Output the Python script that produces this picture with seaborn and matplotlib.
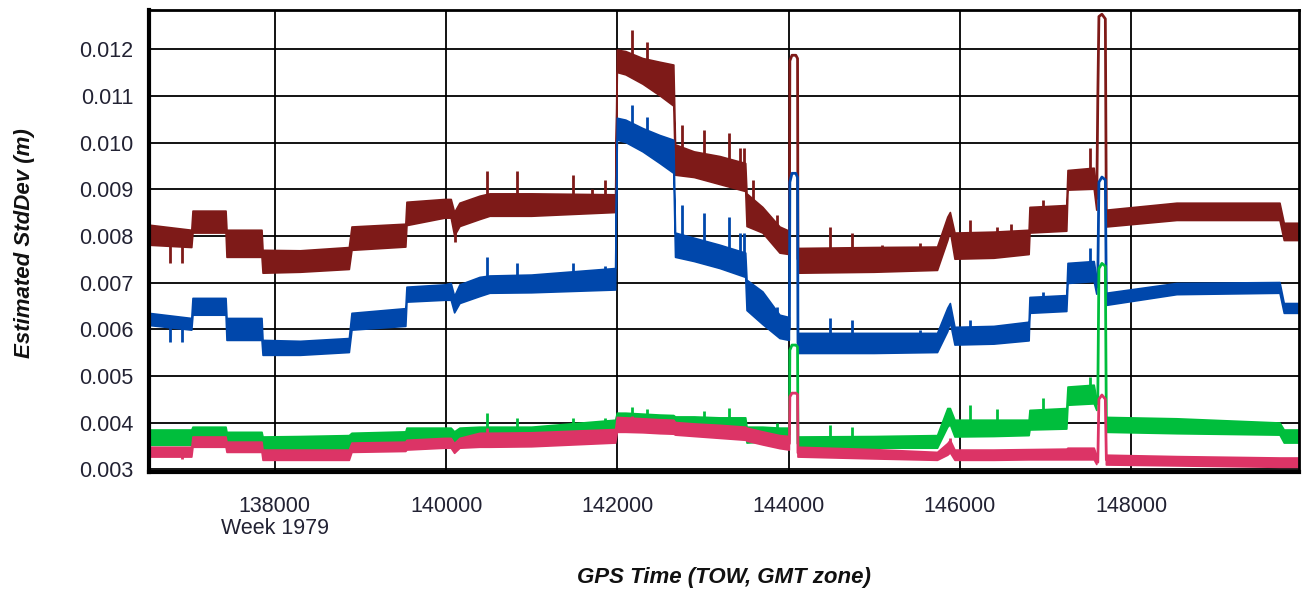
import numpy as np
import matplotlib
matplotlib.use("Agg")
import matplotlib.pyplot as plt
import matplotlib.transforms as mtransforms
import seaborn as sns

nan = np.nan
# ---------------- data (StdDev values in mm) ----------------
tow = [136530, 137030, 137044, 137430, 137441, 137850, 137862, 138300, 138870, 138901,
       139530, 139543, 139987, 140060, 140100, 140162, 140396, 140513, 141000, 141980,
       142000, 142100, 142300, 142500, 142660, 142680, 142900, 143200, 143500, 143515,
       143700, 143900, 144010, 144060, 144110, 145000, 145740, 145860, 145890, 145944,
       146400, 146810, 146820, 147250, 147264, 147570, 147600, 147650, 147712, 148537,
       149740, 149790, 149962]

red_lo = [7.80, 7.75, 8.06, 8.06, 7.54, 7.54, 7.20, 7.22, 7.28, 7.69,
          7.76, 8.22, 8.38, 8.38, 8.00, 8.20, 8.35, 8.42, 8.42, 8.50,
          11.50, 11.45, 11.25, 11.00, 10.78, 9.30, 9.25, 9.10, 8.95, 8.20,
          8.06, 7.63, 7.60, nan, 7.20, 7.22, 7.26, 7.90, 8.10, 7.50,
          7.52, 7.60, 8.06, 8.10, 8.98, 9.00, 8.55, nan, 8.19, 8.33,
          8.33, 7.90, 7.90]
red_hi = [8.23, 8.12, 8.53, 8.53, 8.12, 8.12, 7.69, 7.68, 7.75, 8.19,
          8.25, 8.72, 8.78, 8.78, 8.50, 8.70, 8.85, 8.90, 8.90, 8.88,
          11.98, 11.95, 11.80, 11.72, 11.66, 9.95, 9.80, 9.70, 9.55, 8.90,
          8.61, 8.19, 8.10, nan, 7.73, 7.75, 7.76, 8.40, 8.50, 8.06,
          8.08, 8.12, 8.61, 8.65, 9.40, 9.45, 9.00, nan, 8.55, 8.70,
          8.70, 8.27, 8.27]

blue_lo = [6.08, 5.98, 6.30, 6.30, 5.76, 5.76, 5.44, 5.44, 5.50, 5.98,
           6.06, 6.58, 6.62, 6.62, 6.35, 6.55, 6.70, 6.77, 6.78, 6.84,
           10.05, 10.00, 9.80, 9.55, 9.34, 7.54, 7.45, 7.30, 7.11, 6.40,
           6.10, 5.80, 5.76, nan, 5.48, 5.48, 5.50, 5.95, 6.15, 5.66,
           5.68, 5.75, 6.34, 6.38, 6.98, 7.02, 6.75, nan, 6.51, 6.74,
           6.77, 6.34, 6.34]
blue_hi = [6.34, 6.23, 6.66, 6.66, 6.23, 6.23, 5.76, 5.74, 5.80, 6.34,
           6.44, 6.90, 6.95, 6.98, 6.70, 6.95, 7.11, 7.14, 7.16, 7.30,
           10.52, 10.48, 10.30, 10.15, 10.05, 8.06, 7.95, 7.80, 7.63, 7.05,
           6.80, 6.30, 6.25, nan, 5.91, 5.91, 5.91, 6.45, 6.55, 6.04,
           6.06, 6.15, 6.68, 6.72, 7.41, 7.45, 7.10, nan, 6.77, 6.98,
           7.00, 6.55, 6.55]

green_lo = [3.51, 3.51, 3.62, 3.62, 3.51, 3.51, 3.36, 3.37, 3.38, 3.47,
            3.50, 3.60, 3.62, 3.62, 3.58, 3.60, 3.62, 3.62, 3.62, 3.65,
            3.85, 3.85, 3.84, 3.82, 3.80, 3.77, 3.77, 3.77, 3.77, 3.56,
            3.58, 3.60, 3.60, nan, 3.45, 3.45, 3.45, 3.90, 3.95, 3.69,
            3.70, 3.72, 3.84, 3.86, 4.37, 4.40, 4.26, nan, 3.79, 3.76,
            3.73, 3.56, 3.56]
green_hi = [3.84, 3.84, 3.90, 3.90, 3.79, 3.79, 3.69, 3.70, 3.72, 3.77,
            3.80, 3.88, 3.88, 3.88, 3.80, 3.88, 3.90, 3.90, 3.90, 4.05,
            4.20, 4.20, 4.18, 4.16, 4.15, 4.12, 4.12, 4.10, 4.10, 3.90,
            3.90, 3.88, 3.88, nan, 3.69, 3.70, 3.72, 4.30, 4.30, 4.05,
            4.05, 4.05, 4.26, 4.30, 4.76, 4.80, 4.50, nan, 4.11, 4.08,
            3.99, 3.84, 3.84]

pink_lo = [3.26, 3.26, 3.47, 3.47, 3.36, 3.36, 3.19, 3.19, 3.19, 3.36,
           3.38, 3.41, 3.45, 3.45, 3.34, 3.45, 3.47, 3.47, 3.48, 3.56,
           3.79, 3.79, 3.78, 3.76, 3.75, 3.73, 3.70, 3.66, 3.62, 3.60,
           3.52, 3.44, 3.41, nan, 3.26, 3.22, 3.19, 3.30, 3.35, 3.19,
           3.19, 3.20, 3.20, 3.20, 3.20, 3.20, 3.10, nan, 3.09, 3.07,
           3.04, 3.04, 3.04]
pink_hi = [3.47, 3.47, 3.69, 3.69, 3.58, 3.58, 3.41, 3.41, 3.41, 3.56,
           3.58, 3.62, 3.66, 3.66, 3.55, 3.66, 3.77, 3.77, 3.78, 3.85,
           4.11, 4.10, 4.08, 4.06, 4.05, 4.00, 3.97, 3.94, 3.90, 3.88,
           3.80, 3.72, 3.70, nan, 3.47, 3.42, 3.36, 3.55, 3.62, 3.41,
           3.41, 3.42, 3.42, 3.43, 3.45, 3.45, 3.30, nan, 3.30, 3.27,
           3.24, 3.24, 3.24]

# short excursions (outlined pulses)
pulse1_t = [144010, 144015, 144040, 144085, 144105, 144110]
red_p1 = [7.90, 11.75, 11.87, 11.87, 11.80, 7.50]
blue_p1 = [6.00, 9.15, 9.34, 9.34, 9.25, 5.70]
green_p1 = [3.75, 5.55, 5.66, 5.66, 5.62, 3.55]
pink_p1 = [3.55, 4.55, 4.63, 4.63, 4.60, 3.35]

pulse2_t = [147600, 147612, 147625, 147660, 147700, 147712]
red_p2 = [8.80, 10.95, 12.70, 12.75, 12.65, 8.30]
blue_p2 = [6.90, 7.10, 9.15, 9.26, 9.20, 6.65]
green_p2 = [4.40, 4.55, 7.30, 7.41, 7.35, 3.95]
pink_p2 = [3.20, 3.15, 4.50, 4.59, 4.50, 3.20]

# isolated spikes (time, value)
red_spk_t = [136775, 136915, 140100, 140478, 140828, 141482, 141700, 141856, 142171, 142347,
             142755, 143012, 143304, 143433, 143480, 143585, 143865, 144484, 144741, 145091,
             145535, 146119, 146435, 146600, 146972, 147521]
red_spk_v = [7.41, 7.41, 7.86, 9.40, 9.40, 9.30, 9.00, 9.20, 12.41, 12.15,
             10.37, 10.26, 10.20, 9.88, 9.88, 9.19, 8.44, 8.19, 8.06, 7.80,
             7.85, 8.33, 8.20, 8.25, 8.76, 9.88]
blue_spk_t = [136775, 136915, 140478, 140828, 141482, 141856, 142171, 142347, 142755, 143012,
              143304, 143433, 143480, 143865, 144484, 144741, 145535, 146119, 146972, 147521]
blue_spk_v = [5.72, 5.72, 7.54, 7.41, 7.41, 7.35, 10.80, 10.55, 8.66, 8.48,
              8.40, 8.06, 8.06, 6.47, 6.23, 6.20, 5.98, 6.20, 6.80, 7.73]
green_spk_t = [140478, 140828, 141482, 141856, 142171, 142347, 143012, 143304, 143865, 144484,
               144741, 146119, 146435, 146972, 147521]
green_spk_v = [4.20, 4.09, 4.09, 4.09, 4.33, 4.30, 4.25, 4.31, 4.00, 3.94,
               3.90, 4.37, 4.30, 4.52, 4.97]
pink_spk_t = [136915, 140478, 142171, 145886]
pink_spk_v = [3.22, 3.88, 4.15, 3.66]

x_ticks = [138000, 140000, 142000, 144000, 146000, 148000]
y_ticks = [0.003, 0.004, 0.005, 0.006, 0.007, 0.008, 0.009, 0.010, 0.011, 0.012]

colors = {"red": "#7E1A18", "blue": "#0047AB", "green": "#00BE3C", "pink": "#DC3466"}

# ---------------- drawing ----------------
sns.set_theme(style="white")
plt.rcParams["font.family"] = ["Liberation Sans", "DejaVu Sans"]

fig = plt.figure(figsize=(13.03, 5.9), dpi=100)
ax = fig.add_axes([149 / 1303, 118 / 590, 1150 / 1303, 462 / 590])

t = np.array(tow, dtype=float)
series = [
    ("red", red_lo, red_hi, pulse1_t, red_p1, pulse2_t, red_p2, red_spk_t, red_spk_v),
    ("blue", blue_lo, blue_hi, pulse1_t, blue_p1, pulse2_t, blue_p2, blue_spk_t, blue_spk_v),
    ("green", green_lo, green_hi, pulse1_t, green_p1, pulse2_t, green_p2, green_spk_t, green_spk_v),
    ("pink", pink_lo, pink_hi, pulse1_t, pink_p1, pulse2_t, pink_p2, pink_spk_t, pink_spk_v),
]

for z, (name, lo, hi, p1t, p1v, p2t, p2v, st, sv) in enumerate(series):
    c = colors[name]
    lo = np.array(lo) / 1000.0
    hi = np.array(hi) / 1000.0
    ax.fill_between(t, lo, hi, color=c, linewidth=1.2, edgecolor=c, zorder=3 + z)
    for pt, pv in ((p1t, p1v), (p2t, p2v)):
        sns.lineplot(x=pt, y=np.array(pv) / 1000.0, ax=ax, color=c, linewidth=2.0,
                     estimator=None, sort=False, zorder=3 + z)
    mid = (lo + hi) / 2.0
    ok = ~np.isnan(mid)
    base = np.interp(st, t[ok], mid[ok])
    ax.vlines(st, base, np.array(sv) / 1000.0, color=c, linewidth=2.0, zorder=3 + z)

ax.set_xlim(136530, 149962)
ax.set_ylim(0.00294, 0.01284)
ax.set_xticks(x_ticks)
ax.set_yticks(y_ticks)
ax.set_xticklabels([str(v) for v in x_ticks])
ax.set_yticklabels([f"{v:.3f}" for v in y_ticks])
ax.grid(True, color="black", linewidth=1.3, zorder=1)
ax.set_axisbelow(True)
for s in ["left", "bottom"]:
    ax.spines[s].set_linewidth(3.0)
for s in ["top", "right"]:
    ax.spines[s].set_linewidth(2.0)
for s in ax.spines.values():
    s.set_color("black")
    s.set_zorder(10)
ax.tick_params(axis="both", direction="out", length=6, width=1.5, color="black",
               labelsize=15.5, labelcolor="#222233")
ax.tick_params(axis="x", pad=9, length=8)
ax.tick_params(axis="y", pad=5)
ax.set_xlabel("")
ax.set_ylabel("")

trans = mtransforms.blended_transform_factory(ax.transData, fig.transFigure)
ax.text(138000, 1 - 529 / 590, "Week 1979", transform=trans, ha="center", va="center",
        fontsize=15.5, color="#222233")

fig.text(724 / 1303, 1 - 578 / 590, "GPS Time (TOW, GMT zone)", ha="center", va="center",
         fontsize=16, fontweight="bold", fontstyle="italic", color="#111111")
fig.text(25 / 1303, 1 - 243 / 590, "Estimated StdDev (m)", ha="center", va="center",
         rotation=90, fontsize=16, fontweight="bold", fontstyle="italic", color="#111111")

fig.savefig("out.png", dpi=100)
